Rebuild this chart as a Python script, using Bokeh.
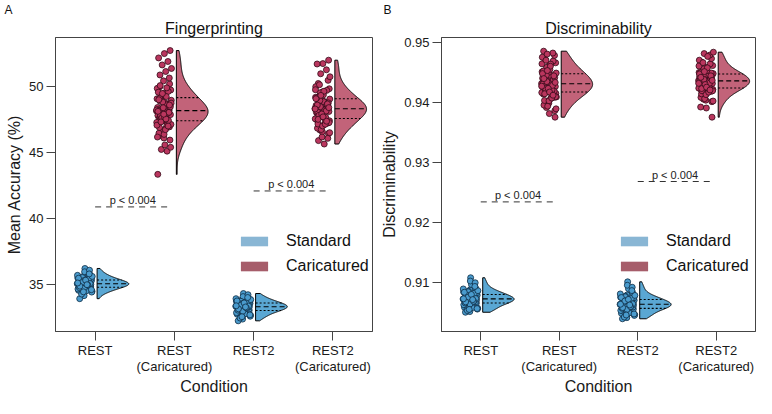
import numpy as np
from bokeh.plotting import figure
from bokeh.models import (ColumnDataSource, FixedTicker, Legend, LegendItem, Range1d, Title)
from bokeh.layouts import row
from bokeh.embed import file_html
from bokeh.resources import INLINE
from bokeh.core.properties import value

# ---------------- data ----------------
conditions = ["REST", "REST\n(Caricatured)", "REST2", "REST2\n(Caricatured)"]
condition_type = ["Standard", "Caricatured", "Standard", "Caricatured"]

# Panel A: Fingerprinting, mean accuracy (%)
fp_rest = [35.02, 34.71, 35.38, 34.95, 35.61, 34.52, 35.14, 34.88, 35.27, 35.83,
           34.64, 35.05, 34.33, 35.46, 34.99, 35.19, 34.79, 36.18, 35.09, 34.91,
           35.55, 34.45, 35.31, 34.83, 35.72, 34.12, 35.00, 35.23, 34.68, 35.41,
           34.97, 33.89, 35.12, 34.75, 35.66, 34.58, 35.34, 34.86, 35.93, 35.07,
           34.93, 35.49, 34.39, 35.17, 34.81, 36.05, 35.26, 34.62, 35.03, 34.24,
           34.98, 35.15, 34.73, 35.36, 34.87, 35.58, 34.49, 35.21, 35.04, 34.69,
           35.44, 34.92, 35.11, 34.57, 35.29, 34.84, 35.77, 34.41, 35.08, 34.95]
fp_rest_car = [48.12, 47.35, 48.86, 46.92, 49.31, 47.78, 48.45, 46.25, 49.72, 48.01,
               47.56, 48.68, 46.61, 49.05, 47.93, 48.29, 45.92, 49.48, 47.18, 48.57,
               47.69, 48.94, 46.78, 49.96, 48.18, 47.44, 48.39, 47.02, 49.18, 47.85,
               48.76, 46.44, 49.61, 48.07, 47.26, 48.51, 47.62, 50.18, 46.08, 48.23,
               47.98, 49.39, 47.11, 48.62, 46.87, 48.34, 47.49, 49.84, 48.05, 47.72,
               52.71, 52.48, 52.15, 51.88, 51.62, 51.35, 51.12, 50.86, 50.63, 50.41,
               43.32, 45.08, 45.21, 45.37, 45.55,
               48.15, 47.41, 48.81, 47.05, 49.22, 47.82, 48.49, 46.35, 49.55, 47.96,
               47.60, 48.72, 46.71, 49.10, 48.02, 48.37, 46.15, 49.88, 47.30, 48.44,
               47.65, 48.98, 46.98, 49.45, 48.20, 47.52, 50.05, 48.58, 47.88, 48.10]
fp_rest2 = [33.31, 32.95, 33.62, 33.18, 33.84, 32.71, 33.45, 33.07, 33.53, 34.12,
            32.86, 33.26, 32.48, 33.71, 33.22, 33.39, 32.99, 34.28, 33.34, 33.11,
            33.77, 32.63, 33.58, 33.03, 33.95, 32.34, 33.29, 33.49, 32.91, 33.66,
            33.15, 32.21, 33.36, 32.97, 33.89, 32.78, 33.55, 33.09, 34.05, 33.28,
            33.13, 33.69, 32.56, 33.42, 33.01, 34.19, 33.51, 32.83, 33.24, 32.42,
            33.28, 33.44, 33.02, 33.61, 33.17, 33.82, 32.74, 33.50, 33.33, 32.93,
            33.72, 33.20, 33.38, 32.66, 33.57, 33.12, 33.98, 32.52, 33.35, 33.26]
fp_rest2_car = [48.31, 47.62, 48.95, 47.21, 49.42, 48.02, 48.63, 46.68, 49.81, 48.22,
                47.84, 48.77, 46.95, 49.16, 48.14, 48.48, 46.41, 49.58, 47.45, 48.71,
                47.93, 49.03, 47.08, 50.21, 48.36, 47.71, 48.55, 47.32, 49.27, 48.09,
                48.88, 46.82, 49.69, 48.27, 47.53, 48.69, 47.88, 50.45, 46.55, 48.41,
                48.18, 49.51, 47.38, 48.83, 47.14, 48.52, 47.76, 49.97, 48.25, 47.97,
                51.98, 51.72, 51.69, 51.25, 50.95, 50.72, 45.62, 45.88, 46.05, 46.15,
                48.33, 47.66, 48.92, 47.25, 49.35, 48.05, 48.60, 46.72, 49.74, 48.19,
                47.80, 48.74, 46.99, 49.12, 48.12, 48.45, 46.48, 49.62, 47.49, 48.66,
                47.90, 49.06, 47.12, 50.12, 48.38, 47.68, 48.58, 47.35, 49.31, 48.28]

# Panel B: Discriminability
dc_rest = [0.90722, 0.90641, 0.90813, 0.90698, 0.90874, 0.90583, 0.90751, 0.90669, 0.90786, 0.90962,
           0.90612, 0.90731, 0.90541, 0.90838, 0.90709, 0.90764, 0.90652, 0.91076, 0.90741, 0.90688,
           0.90851, 0.90568, 0.90798, 0.90661, 0.90903, 0.90512, 0.90717, 0.90772, 0.90632, 0.90826,
           0.90703, 0.90501, 0.90745, 0.90657, 0.90889, 0.90597, 0.90806, 0.90679, 0.91021, 0.90736,
           0.90694, 0.90842, 0.90553, 0.90757, 0.90673, 0.90992, 0.90779, 0.90626, 0.90727, 0.90529,
           0.90718, 0.90762, 0.90656, 0.90819, 0.90703, 0.90861, 0.90577, 0.90781, 0.90729, 0.90638,
           0.90834, 0.90684, 0.90748, 0.90562, 0.90797, 0.90674, 0.90931, 0.90547, 0.90725, 0.90711]
dc_rest_car = [0.94312, 0.94195, 0.94461, 0.94083, 0.94562, 0.94251, 0.94387, 0.93912, 0.94658, 0.94298,
               0.94221, 0.94418, 0.94012, 0.94508, 0.94276, 0.94352, 0.93861, 0.94612, 0.94135, 0.94434,
               0.94237, 0.94487, 0.94058, 0.94722, 0.94325, 0.94178, 0.94401, 0.94109, 0.94536, 0.94263,
               0.94472, 0.93953, 0.94688, 0.94305, 0.94162, 0.94426, 0.94212, 0.94781, 0.93985, 0.94339,
               0.94288, 0.94583, 0.94148, 0.94451, 0.94031, 0.94372, 0.94203, 0.94751, 0.94318, 0.94244,
               0.93752, 0.93812, 0.94852, 0.94821, 0.94803, 0.94089, 0.94636, 0.94365, 0.94186, 0.94499,
               0.94305, 0.94208, 0.94452, 0.94092, 0.94548, 0.94262, 0.94381, 0.93935, 0.94641, 0.94291,
               0.94229, 0.94412, 0.94025, 0.94521, 0.94282, 0.94346, 0.93891, 0.94601, 0.94142, 0.94441,
               0.94231, 0.94478, 0.94071, 0.94701, 0.94331, 0.94171, 0.94395, 0.94118, 0.94529, 0.94269]
dc_rest2 = [0.90632, 0.90561, 0.90724, 0.90605, 0.90789, 0.90483, 0.90668, 0.90578, 0.90701, 0.90893,
            0.90522, 0.90641, 0.90432, 0.90752, 0.90619, 0.90679, 0.90553, 0.91008, 0.90652, 0.90597,
            0.90768, 0.90461, 0.90712, 0.90571, 0.90828, 0.90411, 0.90627, 0.90685, 0.90538, 0.90741,
            0.90612, 0.90392, 0.90659, 0.90566, 0.90806, 0.90497, 0.90719, 0.90589, 0.90951, 0.90647,
            0.90602, 0.90759, 0.90448, 0.90671, 0.90583, 0.90918, 0.90694, 0.90531, 0.90638, 0.90421,
            0.90628, 0.90673, 0.90566, 0.90731, 0.90608, 0.90782, 0.90491, 0.90662, 0.90641, 0.90548,
            0.90746, 0.90595, 0.90688, 0.90472, 0.90715, 0.90579, 0.90862, 0.90455, 0.90634, 0.90622]
dc_rest2_car = [0.94362, 0.94265, 0.94458, 0.94184, 0.94535, 0.94302, 0.94411, 0.94052, 0.94612, 0.94341,
                0.94281, 0.94432, 0.94121, 0.94497, 0.94323, 0.94387, 0.94011, 0.94581, 0.94223, 0.94445,
                0.94291, 0.94478, 0.94163, 0.94668, 0.94369, 0.94247, 0.94421, 0.94201, 0.94518, 0.94312,
                0.94466, 0.94082, 0.94641, 0.94351, 0.94236, 0.94439, 0.94275, 0.94728, 0.94035, 0.94378,
                0.94334, 0.94556, 0.94214, 0.94452, 0.94141, 0.94398, 0.94259, 0.94702, 0.94357, 0.94306,
                0.93752, 0.93905, 0.93921, 0.94788, 0.94812, 0.94835, 0.94765, 0.94192, 0.94488, 0.94372,
                0.94358, 0.94271, 0.94451, 0.94191, 0.94528, 0.94309, 0.94405, 0.94061, 0.94605, 0.94338,
                0.94288, 0.94428, 0.94128, 0.94491, 0.94319, 0.94382, 0.94021, 0.94574, 0.94229, 0.94441,
                0.94296, 0.94472, 0.94169, 0.94661, 0.94365, 0.94252, 0.94416, 0.94206, 0.94512, 0.94316]

# significance brackets: (from condition index, to condition index)
p_pairs = [(0, 1), (2, 3)]
p_labels = ["p < 0.004", "p < 0.004"]
fp_p_levels = [40.85, 42.06]
dc_p_levels = [0.9234, 0.9268]

fp_ticks = [35, 40, 45, 50]
dc_ticks = [0.91, 0.92, 0.93, 0.94, 0.95]

# ---------------- styles ----------------
FONT = "Liberation Sans"
PT_FILL = {"Standard": "#4a9bcd", "Caricatured": "#ba365e"}
PT_LINE = {"Standard": "#0e2c44", "Caricatured": "#340a18"}
VIO_FILL = {"Standard": "#5aa7d3", "Caricatured": "#c26379"}
LEG_FILL = {"Standard": "#89b6d4", "Caricatured": "#a65d6a"}
VIOLIN_WIDTH = 0.40
VIOLIN_GAP = 0.025
POINT_CENTER = -0.13
POINT_SPREAD = 0.19
FIG_H = 398
BOT_B = 60


def raincloud(p, vals, pos, kind):
    v = np.asarray(vals, dtype=float)
    n = v.size
    jit = POINT_CENTER + (np.mod(np.arange(n) * 0.6180339887, 1.0) - 0.5) * POINT_SPREAD
    src = ColumnDataSource(dict(x=pos + jit, y=v))
    p.scatter("x", "y", source=src, size=6, fill_color=PT_FILL[kind],
              line_color=PT_LINE[kind], line_width=0.8)

    q1, med, q3 = np.percentile(v, [25, 50, 75])
    sd = v.std(ddof=1)
    bw = 1.4 * 0.9 * min(sd, (q3 - q1) / 1.34) * n ** -0.2
    grid = np.linspace(v.min(), v.max(), 240)
    dens = np.exp(-0.5 * ((grid[:, None] - v[None, :]) / bw) ** 2).sum(axis=1)
    dens = dens / dens.max() * VIOLIN_WIDTH
    base = pos + VIOLIN_GAP
    xs = np.concatenate([base + dens, [base, base]])
    ys = np.concatenate([grid, [grid[-1], grid[0]]])
    p.patch(xs, ys, fill_color=VIO_FILL[kind], line_color="black", line_width=1)
    p.segment(x0="x0", x1="x1", y0="y", y1="y", source=ColumnDataSource(
        dict(x0=[base, base], x1=[base + np.interp(q, grid, dens) for q in (q1, q3)], y=[q1, q3])),
        line_color="black", line_width=1.1, line_dash="2 2")
    p.segment(x0="x0", x1="x1", y0="y", y1="y", source=ColumnDataSource(
        dict(x0=[base], x1=[base + np.interp(med, grid, dens)], y=[med])),
        line_color="black", line_width=1.1, line_dash="5 3")


def make_panel(groups, yr, ticks, fmt, ylabel, title, letter, p_levels, width, bl, br,
               leg_x):
    p = figure(width=width, height=FIG_H, output_backend="svg",
               toolbar_location=None, x_range=Range1d(0.5, 4.5), y_range=Range1d(*yr),
               min_border_left=bl, min_border_right=br, min_border_top=0,
               min_border_bottom=BOT_B)
    p.xgrid.visible = False
    p.ygrid.visible = False
    p.outline_line_color = "#444444"
    p.outline_line_width = 1
    p.background_fill_color = "white"

    for i, vals in enumerate(groups):
        raincloud(p, vals, i + 1, condition_type[i])

    # significance annotations
    x0 = [a + 1 for a, b in p_pairs]
    x1 = [b + 1 - 0.05 for a, b in p_pairs]
    psrc = ColumnDataSource(dict(x0=x0, x1=x1, y=p_levels,
                                 xm=[(a + b) / 2 for a, b in zip(x0, x1)], t=p_labels))
    p.segment(x0="x0", x1="x1", y0="y", y1="y", source=psrc, line_color="#333333",
              line_width=1, line_dash="6 5")
    p.text(x="xm", y="y", text="t", source=psrc, text_font=value(FONT),
           text_font_size="11px", text_align="center", text_baseline="bottom",
           y_offset=-1, text_color="#222222")

    # legend
    items = []
    for kind in ["Standard", "Caricatured"]:
        r = p.quad(left=[np.nan], right=[np.nan], top=[np.nan], bottom=[np.nan],
                   fill_color=LEG_FILL[kind], line_color=None)
        items.append(LegendItem(label=kind, renderers=[r]))
    leg = Legend(items=items, location=(leg_x, 56), glyph_width=34, glyph_height=12,
                 label_height=14, label_standoff=15, spacing=7, padding=0, margin=0,
                 label_text_font=FONT, label_text_font_size="16px",
                 label_text_color="#111111", border_line_alpha=0,
                 background_fill_alpha=0)
    p.add_layout(leg)

    # axes
    p.xaxis.ticker = FixedTicker(ticks=[1, 2, 3, 4])
    p.xaxis.major_label_overrides = {i + 1: c for i, c in enumerate(conditions)}
    p.yaxis.ticker = FixedTicker(ticks=ticks)
    p.yaxis.major_label_overrides = {t: fmt.format(t) for t in ticks}
    for ax in (p.xaxis, p.yaxis):
        ax.minor_tick_line_color = None
        ax.major_tick_in = 0
        ax.major_tick_out = 9
        ax.axis_line_color = "#444444"
        ax.major_tick_line_color = "#444444"
        ax.major_label_text_font = FONT
        ax.major_label_text_font_size = "13px"
        ax.major_label_text_color = "#1a1a1a"
        ax.axis_label_text_font = FONT
        ax.axis_label_text_font_size = "16px"
        ax.axis_label_text_font_style = "normal"
        ax.axis_label_text_color = "#1a1a1a"
        ax.major_label_standoff = 3
        ax.axis_label_standoff = 3
    p.xaxis.major_label_standoff = 2
    p.xaxis.axis_label_standoff = 1
    p.xaxis.major_label_text_line_height = 1.1
    p.xaxis.axis_label = "Condition"
    p.yaxis.axis_label = ylabel

    p.add_layout(Title(text=title, align="center", text_font=FONT, text_font_size="16px",
                       text_font_style="normal", text_color="#111111", standoff=2),
                 "above")
    p.add_layout(Title(text=letter, align="left", offset=-(bl - 4), text_font=FONT,
                       text_font_size="12px", text_font_style="normal",
                       text_color="#111111", standoff=0), "above")
    return p


pA = make_panel([fp_rest, fp_rest_car, fp_rest2, fp_rest2_car], (31.4, 53.7), fp_ticks,
                "{:.0f}", "Mean Accuracy (%)", "Fingerprinting", "A", fp_p_levels,
                378, 55, 6, 182)
pB = make_panel([dc_rest, dc_rest_car, dc_rest2, dc_rest2_car], (0.9018, 0.9508), dc_ticks,
                "{:.2f}", "Discriminability", "Discriminability", "B", dc_p_levels,
                378, 62, 1, 176)

layout = row(pA, pB)
open("out.html", "w").write(file_html(layout, INLINE))
